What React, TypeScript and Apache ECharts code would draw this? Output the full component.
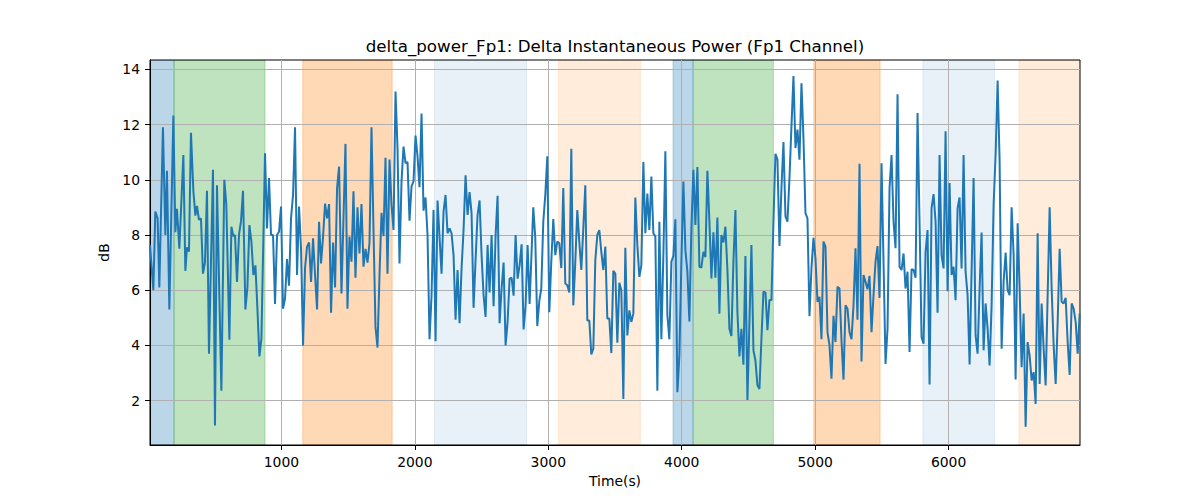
import React, { useEffect, useRef } from "react";
import * as echarts from "echarts";

// [time (s), delta power (dB)]
const deltaPower: [number, number][] = [
  [15, 7.64], [40, 6.0], [55, 8.85], [72, 8.6], [85, 6.1], [112, 11.9], [130, 8.0], [142, 10.33], [160, 5.3], [190, 12.33],
  [205, 8.1], [217, 8.95], [235, 7.5], [265, 10.9], [280, 6.7], [292, 7.55], [307, 7.4], [322, 11.7], [340, 9.6], [355, 8.7],
  [367, 9.05], [382, 8.55], [397, 8.6], [412, 6.6], [427, 7.0], [442, 9.6], [457, 3.7], [487, 10.36], [502, 1.1], [517, 9.8],
  [550, 2.36], [572, 10.0], [587, 9.1], [610, 4.2], [625, 8.3], [640, 7.95], [652, 8.0], [667, 6.3], [682, 8.0], [697, 8.5],
  [712, 9.6],
  [730, 5.3], [745, 6.1], [760, 8.36], [775, 7.76], [790, 6.55], [805, 6.9], [820, 5.33], [835, 3.6], [850, 4.24], [877, 10.96],
  [892, 8.24], [907, 10.06], [922, 8.0], [937, 8.0], [952, 5.5], [967, 8.0], [982, 8.12], [997, 9.03], [1012, 5.33], [1027, 5.7],
  [1042, 7.13], [1057, 6.16], [1072, 8.6], [1087, 9.45], [1102, 11.9], [1117, 6.55], [1132, 9.03], [1147, 7.5], [1162, 4.0], [1177, 6.8],
  [1192, 7.58], [1207, 7.73], [1222, 6.3], [1237, 7.88], [1252, 6.55], [1267, 5.3], [1282, 8.48], [1297, 6.97], [1312, 7.94], [1327, 9.14],
  [1342, 8.6], [1357, 9.12], [1372, 5.18], [1387, 7.73], [1402, 6.1], [1417, 9.7], [1432, 10.48],
  [1450, 5.88], [1480, 11.3], [1495, 5.33], [1510, 7.94], [1525, 7.03], [1540, 9.58], [1555, 6.45], [1570, 9.0], [1585, 7.33], [1600, 9.12],
  [1615, 6.85], [1630, 7.5], [1645, 7.0], [1660, 7.7], [1675, 11.9], [1690, 8.2], [1705, 4.67], [1720, 3.92], [1735, 6.55], [1750, 8.8],
  [1765, 7.96], [1780, 10.8], [1795, 6.6], [1810, 10.73], [1825, 9.1], [1840, 8.18], [1855, 13.2], [1870, 11.15], [1885, 6.97], [1900, 9.94],
  [1915, 11.2], [1930, 10.6], [1945, 10.64], [1960, 8.52], [1975, 9.76], [1990, 9.94], [2005, 11.6], [2020, 10.85], [2035, 9.73], [2050, 12.4],
  [2065, 8.88], [2080, 9.36], [2095, 8.0], [2110, 4.22], [2125, 5.8], [2140, 8.9],
  [2155, 4.15], [2170, 9.25], [2200, 6.6], [2215, 8.85], [2230, 9.45], [2245, 8.06], [2260, 8.24], [2275, 8.06], [2290, 7.27], [2305, 4.93],
  [2320, 6.73], [2335, 4.8], [2350, 6.79], [2365, 8.18], [2380, 10.16], [2395, 8.73], [2410, 9.55], [2425, 8.79], [2440, 5.36], [2455, 7.09],
  [2470, 8.73], [2485, 9.25], [2500, 7.27], [2515, 5.82], [2530, 5.03], [2545, 7.64], [2560, 5.92], [2575, 8.0], [2590, 5.42], [2605, 7.97],
  [2620, 9.42], [2635, 4.8], [2650, 6.06], [2665, 7.0], [2680, 4.0], [2695, 4.85], [2710, 6.42], [2725, 6.45], [2740, 5.8], [2755, 8.0],
  [2770, 6.42], [2785, 6.9], [2800, 7.66], [2815, 4.58], [2830, 5.45], [2845, 7.64], [2860, 5.5],
  [2887.5, 9.0], [2902.5, 7.9], [2917.5, 4.7], [2932.5, 5.6], [2947.5, 6.06], [2962.5, 8.48], [2977.5, 9.45], [2992.5, 10.85], [3007.5, 5.2], [3022.5, 7.03],
  [3037.5, 8.58], [3052.5, 7.27], [3067.5, 7.76], [3082.5, 7.7], [3097.5, 6.8], [3112.5, 9.7], [3127.5, 6.24], [3142.5, 6.18], [3157.5, 5.92], [3172.5, 11.12],
  [3187.5, 5.45], [3202.5, 7.03], [3217.5, 8.9], [3232.5, 7.76], [3247.5, 6.73], [3262.5, 8.24], [3277.5, 9.8], [3292.5, 4.9], [3307.5, 4.9], [3322.5, 3.67],
  [3337.5, 3.88], [3352.5, 7.09], [3367.5, 8.0], [3382.5, 8.18], [3397.5, 7.39], [3412.5, 6.73], [3427.5, 7.58], [3442.5, 4.97], [3457.5, 4.97], [3472.5, 3.72],
  [3487.5, 6.7], [3502.5, 6.6], [3517.5, 4.1], [3532.5, 6.27], [3547.5, 6.0], [3562.5, 2.06],
  [3577.5, 7.54], [3592.5, 4.36], [3607.5, 5.27], [3622.5, 4.85], [3637.5, 5.15], [3652.5, 9.36], [3667.5, 7.64], [3682.5, 6.48], [3697.5, 6.9], [3712.5, 10.64],
  [3727.5, 8.06], [3742.5, 9.5], [3757.5, 8.18], [3772.5, 10.12], [3787.5, 8.06], [3802.5, 7.94], [3817.5, 2.36], [3832.5, 8.48], [3847.5, 4.22], [3862.5, 7.27],
  [3877.5, 11.03], [3892.5, 5.09], [3907.5, 4.22], [3922.5, 7.03], [3937.5, 7.24], [3952.5, 8.57], [3967.5, 2.3], [3982.5, 3.64], [3997.5, 7.03], [4012.5, 9.94],
  [4027.5, 7.45], [4042.5, 6.67], [4057.5, 4.87], [4072.5, 8.24], [4087.5, 10.36], [4102.5, 8.36], [4117.5, 10.46], [4132.5, 6.85], [4147.5, 6.82], [4162.5, 7.39],
  [4177.5, 7.2], [4192.5, 10.33], [4207.5, 8.48], [4222.5, 6.42], [4237.5, 8.1], [4252.5, 6.45], [4267.5, 8.63], [4282.5, 5.15],
  [4297.5, 8.0], [4312.5, 7.73], [4327.5, 8.3], [4342.5, 6.73], [4357.5, 4.6], [4372.5, 4.34], [4387.5, 7.03], [4402.5, 8.9], [4417.5, 5.2], [4432.5, 3.6],
  [4447.5, 4.6], [4462.5, 3.3], [4477.5, 7.24], [4492.5, 2.02], [4507.5, 4.85], [4522.5, 7.64], [4537.5, 3.82], [4552.5, 3.45], [4567.5, 2.55], [4582.5, 2.42],
  [4597.5, 4.24], [4612.5, 5.94], [4627.5, 5.92], [4642.5, 4.55], [4657.5, 5.64], [4672.5, 5.64], [4687.5, 8.48], [4702.5, 10.94], [4717.5, 10.73], [4732.5, 7.6],
  [4747.5, 9.7], [4762.5, 11.37], [4777.5, 8.67], [4792.5, 8.48], [4807.5, 10.06], [4822.5, 11.94], [4837.5, 13.76], [4852.5, 11.15], [4867.5, 11.82], [4882.5, 10.73],
  [4897.5, 13.5], [4912.5, 11.5], [4927.5, 8.79], [4942.5, 8.6], [4957.5, 5.06], [4972.5, 6.8], [4987.5, 7.9],
  [5002.5, 7.15], [5017.5, 5.58], [5032.5, 5.76], [5047.5, 4.22], [5062.5, 7.76], [5077.5, 7.58], [5092.5, 4.48], [5107.5, 4.0], [5122.5, 2.79], [5137.5, 5.07],
  [5152.5, 4.12], [5167.5, 6.12], [5182.5, 6.06], [5197.5, 4.18], [5212.5, 2.76], [5227.5, 5.45], [5242.5, 5.33], [5257.5, 4.48], [5272.5, 4.22], [5287.5, 5.45],
  [5302.5, 7.52], [5317.5, 4.93], [5332.5, 10.58], [5347.5, 3.42], [5362.5, 6.55], [5377.5, 6.3], [5392.5, 6.03], [5407.5, 6.52], [5422.5, 4.48], [5437.5, 5.82],
  [5452.5, 7.03], [5467.5, 7.6], [5482.5, 5.72], [5497.5, 10.6], [5512.5, 7.03], [5527.5, 3.33], [5542.5, 4.6], [5557.5, 9.7], [5572.5, 10.9], [5587.5, 8.48],
  [5602.5, 7.52], [5617.5, 13.1], [5632.5, 6.85], [5647.5, 6.73], [5662.5, 7.33], [5677.5, 6.06], [5692.5, 6.67], [5707.5, 3.76],
  [5722.5, 6.76], [5737.5, 6.73], [5752.5, 6.45], [5767.5, 12.42], [5782.5, 8.48], [5797.5, 4.3], [5812.5, 4.06], [5827.5, 7.39], [5842.5, 8.18], [5857.5, 2.58],
  [5872.5, 8.97], [5887.5, 9.48], [5902.5, 8.48], [5917.5, 5.18], [5932.5, 10.9], [5947.5, 7.27], [5962.5, 6.79], [5977.5, 11.76], [5992.5, 5.96], [6007.5, 9.88],
  [6022.5, 6.55], [6037.5, 6.85], [6052.5, 5.64], [6067.5, 8.97], [6082.5, 9.36], [6097.5, 6.79], [6112.5, 10.9], [6127.5, 6.67], [6142.5, 5.82], [6157.5, 3.31],
  [6172.5, 6.67], [6187.5, 10.06], [6202.5, 4.36], [6217.5, 3.7], [6232.5, 6.06], [6247.5, 8.09], [6262.5, 3.82], [6277.5, 5.52], [6292.5, 4.6], [6307.5, 3.27],
  [6322.5, 5.45], [6337.5, 9.09], [6352.5, 10.9], [6367.5, 13.6], [6382.5, 10.67], [6397.5, 3.88], [6412.5, 6.3],
  [6427.5, 7.36], [6442.5, 6.0], [6457.5, 5.82], [6472.5, 9.0], [6487.5, 7.27], [6502.5, 2.76], [6517.5, 8.42], [6532.5, 6.06], [6547.5, 3.21], [6562.5, 5.15],
  [6577.5, 1.05], [6592.5, 4.12], [6607.5, 3.64], [6622.5, 2.73], [6637.5, 3.03], [6652.5, 1.88], [6667.5, 8.06], [6682.5, 2.6], [6697.5, 5.52], [6712.5, 3.88],
  [6727.5, 2.55], [6742.5, 5.82], [6757.5, 9.0], [6772.5, 6.06], [6787.5, 4.0], [6802.5, 2.6], [6817.5, 4.85], [6832.5, 7.5], [6847.5, 5.58], [6862.5, 5.52],
  [6877.5, 5.72], [6892.5, 4.12], [6907.5, 2.93], [6922.5, 5.52], [6937.5, 5.33], [6952.5, 4.85], [6967.5, 3.7], [6982.5, 5.15],
];

// Shaded intervals (seconds) and their kind
const spanStart = [15, 195, 1160, 2147, 3077, 3935, 4085, 4990, 5807, 6527];
const spanEnd = [195, 877, 1830, 2837, 3690, 4085, 4687, 5487, 6345, 6985];
const spanKind = [0, 1, 2, 3, 4, 0, 1, 2, 3, 4];

const xTicks = [1000, 2000, 3000, 4000, 5000, 6000];
const yTicks = [2, 4, 6, 8, 10, 12, 14];

const TIME_MIN = 15;
const TIME_MAX = 6985;
const DB_MIN = 0.39;
const DB_MAX = 14.34;

const TITLE = "delta_power_Fp1: Delta Instantaneous Power (Fp1 Channel)";

const KIND_FILL = [
  "rgba(31,119,180,0.3)",
  "rgba(44,160,44,0.3)",
  "rgba(255,127,14,0.3)",
  "rgba(31,119,180,0.1)",
  "rgba(255,127,14,0.15)",
];

const FONT = "DejaVu Sans";

export default function App() {
  const ref = useRef<HTMLDivElement>(null);

  useEffect(() => {
    document.body.style.margin = "0";
    if (!ref.current) return;
    const chart = echarts.init(ref.current, undefined, { renderer: "svg" });

    const spanData = spanStart.map((s, i) => [s, spanEnd[i], spanKind[i]]);

    const labelStyle = { color: "#000", fontSize: 13.9, fontFamily: FONT };

    chart.setOption({
      animation: false,
      backgroundColor: "#fff",
      grid: {
        left: 150,
        right: 120,
        top: 60,
        bottom: 55,
        show: true,
        borderColor: "#000",
        borderWidth: 1,
        backgroundColor: "transparent",
        z: 1,
      },
      graphic: [
        {
          type: "text",
          x: 615,
          y: 46,
          z: 10,
          style: {
            text: TITLE,
            fill: "#000",
            fontSize: 16.67,
            fontFamily: FONT,
            align: "center",
            verticalAlign: "middle",
          },
        },
      ],
      xAxis: {
        type: "value",
        min: TIME_MIN,
        max: TIME_MAX,
        z: 1,
        name: "Time(s)",
        nameLocation: "middle",
        nameGap: 29,
        nameTextStyle: labelStyle,
        axisLine: { show: true, onZero: false, lineStyle: { color: "#000", width: 1 } },
        axisTick: {
          show: true,
          inside: false,
          length: 5,
          customValues: xTicks,
          lineStyle: { color: "#000", width: 1 },
        },
        axisLabel: {
          ...labelStyle,
          margin: 10,
          customValues: xTicks,
          formatter: (v: number) => String(v),
        },
        splitLine: { show: true, lineStyle: { color: "#b0b0b0", width: 1 } },
      },
      yAxis: {
        type: "value",
        min: DB_MIN,
        max: DB_MAX,
        z: 1,
        name: "dB",
        nameLocation: "middle",
        nameGap: 30,
        nameRotate: 90,
        nameTextStyle: labelStyle,
        axisLine: { show: true, onZero: false, lineStyle: { color: "#000", width: 1 } },
        axisTick: {
          show: true,
          inside: false,
          length: 5,
          customValues: yTicks,
          lineStyle: { color: "#000", width: 1 },
        },
        axisLabel: {
          ...labelStyle,
          margin: 10,
          customValues: yTicks,
          formatter: (v: number) => String(v),
        },
        splitLine: { show: true, lineStyle: { color: "#b0b0b0", width: 1 } },
      },
      series: [
        {
          type: "custom",
          z: 0,
          silent: true,
          clip: true,
          data: spanData,
          encode: { x: [0, 1] },
          renderItem: (params: any, api: any) => {
            const s = api.coord([api.value(0), DB_MIN]);
            const e = api.coord([api.value(1), DB_MIN]);
            const cs = params.coordSys;
            const fill = KIND_FILL[api.value(2)];
            return {
              type: "rect",
              shape: { x: s[0], y: cs.y, width: e[0] - s[0], height: cs.height },
              style: { fill, stroke: fill, lineWidth: 1 },
            };
          },
        },
        {
          type: "line",
          z: 2,
          data: deltaPower,
          showSymbol: false,
          symbol: "none",
          clip: true,
          lineStyle: { color: "#1f77b4", width: 2 },
          emphasis: { disabled: true },
        },
      ],
    });

    return () => {
      chart.dispose();
    };
  }, []);

  return <div ref={ref} style={{ width: 1200, height: 500 }} />;
}
